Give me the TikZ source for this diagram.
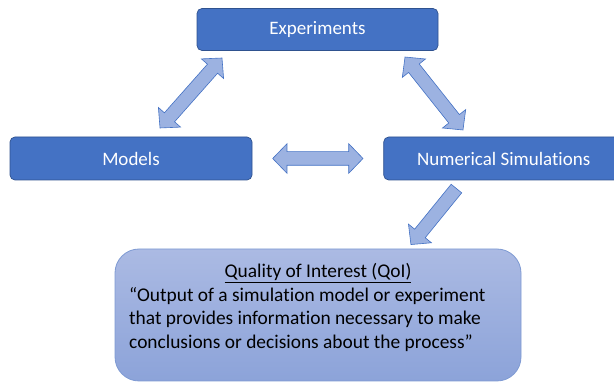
\documentclass[tikz,border=0pt]{standalone}
\usepackage{fontspec}
\setmainfont{Carlito}[Ligatures=NoCommon]
\usepackage{xcolor}
\usetikzlibrary{shapes.arrows, positioning, calc}

\definecolor{boxblue}{HTML}{4472C4}
\definecolor{boxline}{HTML}{2F528F}
\definecolor{arrowfill}{HTML}{9CB2E1}
\definecolor{qoitop}{HTML}{ABBAE3}
\definecolor{qoibottom}{HTML}{8CA3D9}
\definecolor{qoiline}{HTML}{7E9AD3}

\begin{document}
\begin{tikzpicture}[
    x=1pt, y=1pt,
    font=\fontsize{19}{23.7}\selectfont,
    % blue boxes
    mainbox/.style={
      rectangle,
      rounded corners=5pt,
      draw=boxline,
      line width=0.7pt,
      fill=boxblue,
      text=white,
      minimum height=43pt,
      align=center
    },
    % big box at the bottom
    qoibox/.style={
      rectangle,
      rounded corners=24pt,
      draw=qoiline,
      line width=0.8pt,
      top color=qoitop,
      bottom color=qoibottom,
      minimum width=406pt,
      minimum height=132pt
    },
    % fat arrows
    dblarrow/.style={
      double arrow,
      draw=boxblue,
      line width=0.6pt,
      fill=arrowfill,
      inner sep=6.5pt,
      minimum width=29pt,
      double arrow head extend=8pt,
      double arrow tip angle=92
    },
    sglarrow/.style={
      single arrow,
      draw=boxblue,
      line width=0.6pt,
      fill=arrowfill,
      inner sep=6.5pt,
      minimum width=29pt,
      single arrow head extend=8pt,
      single arrow tip angle=92
    }
  ]
  \useasboundingbox (0,0) rectangle (614,383);

  % --- boxes ---
  \node[mainbox, minimum width=241pt, minimum height=42pt] (exp) at (317.5,353.5) {Experiments};
  \node[mainbox, minimum width=242pt] (models) at (131,224.5) {Models};
  \node[mainbox, minimum width=240pt, right=131pt of models] (sim) {Numerical Simulations};

  \node[qoibox] (qoi) at (318,68) {};
  \node[anchor=base, font=\fontsize{19.4}{23.7}\selectfont] (qoititle) at (318,105) {\underline{Quality of Interest (QoI)}};
  \node[anchor=north west, align=left, inner sep=0pt, font=\fontsize{19.4}{23.7}\selectfont] (qoidef) at (129,96) {%
    “Output of a simulation model or experiment\\
    that provides information necessary to make\\
    conclusions or decisions about the process”};

  % --- end points of the arrows ---
  \coordinate (ml) at (160,255);
  \coordinate (mu) at (222,325);
  \coordinate (su) at (405,326);
  \coordinate (sl) at (463,253);
  \coordinate (hl) at (272.7,224.5);
  \coordinate (hr) at (363,224.5);
  \coordinate (qt) at (458.5,197);
  \coordinate (qh) at (413,141);

  % --- arrows ---
  \path let \p1=($(mu)-(ml)$), \n1={atan2(\y1,\x1)}, \n2={veclen(\x1,\y1)} in
    node[dblarrow, minimum height=\n2, rotate=\n1] (arrEM) at ($(ml)!0.5!(mu)$) {};
  \path let \p1=($(sl)-(su)$), \n1={atan2(\y1,\x1)}, \n2={veclen(\x1,\y1)} in
    node[dblarrow, minimum height=\n2, rotate=\n1] (arrES) at ($(su)!0.5!(sl)$) {};
  \path let \p1=($(hr)-(hl)$), \n1={atan2(\y1,\x1)}, \n2={veclen(\x1,\y1)} in
    node[dblarrow, minimum height=\n2, rotate=\n1] (arrMS) at ($(hl)!0.5!(hr)$) {};
  \path let \p1=($(qh)-(qt)$), \n1={atan2(\y1,\x1)}, \n2={veclen(\x1,\y1)} in
    node[sglarrow, minimum height=\n2, rotate=\n1] (arrSQ) at ($(qt)!0.5!(qh)$) {};

\end{tikzpicture}
\end{document}
